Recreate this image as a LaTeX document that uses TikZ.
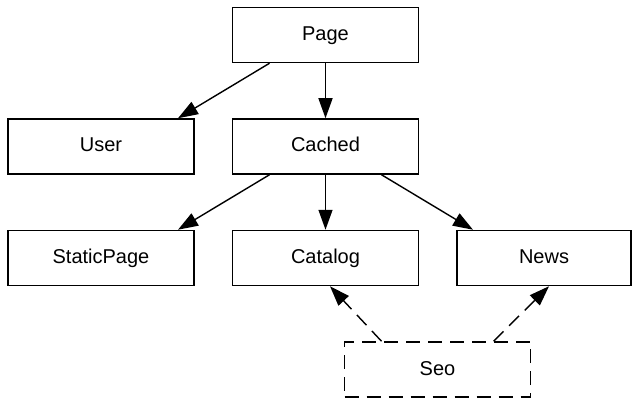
\documentclass[tikz,border=0pt]{standalone}
\usepackage{fontspec}
\setmainfont{Liberation Sans}
\usetikzlibrary{arrows.meta,positioning}

\begin{document}
\begin{tikzpicture}[x=1pt,y=1pt,node distance=55pt and 37pt,box/.style={draw,line width=1.5pt,minimum width=186pt,minimum height=55pt,inner sep=0pt,text height=15pt,text depth=4pt,font=\fontsize{20}{24}\selectfont},arrow/.style={-{Triangle[length=20pt,width=14pt]},line width=1.4pt},uses/.style={arrow,dash pattern=on 14pt off 8pt}]
\useasboundingbox (0,0) rectangle (632,397);
\node[box] (page) at (325.5,362) {Page};
\node[box,below=of page] (cached) {Cached};
\node[box,left=of cached] (user) {User};
\node[box,below=of cached] (catalog) {Catalog};
\node[box,left=of catalog] (static) {StaticPage};
\node[box,right=of catalog,minimum width=174pt] (news) {News};
\node[box,dash pattern=on 14pt off 8pt,below=of catalog,xshift=112pt] (seo) {Seo};
\draw[arrow] ([xshift=-56pt]page.south)--([xshift=77pt]user.north); \draw[arrow] (page)--(cached);
\draw[arrow] ([xshift=-56pt]cached.south)--([xshift=77pt]static.north); \draw[arrow] (cached)--(catalog); \draw[arrow] ([xshift=56pt]cached.south)--([xshift=-71pt]news.north);
\draw[uses] ([xshift=-56pt]seo.north)--([xshift=4.5pt]catalog.south); \draw[uses] ([xshift=56pt]seo.north)--([xshift=5pt]news.south);
\end{tikzpicture}
\end{document}
